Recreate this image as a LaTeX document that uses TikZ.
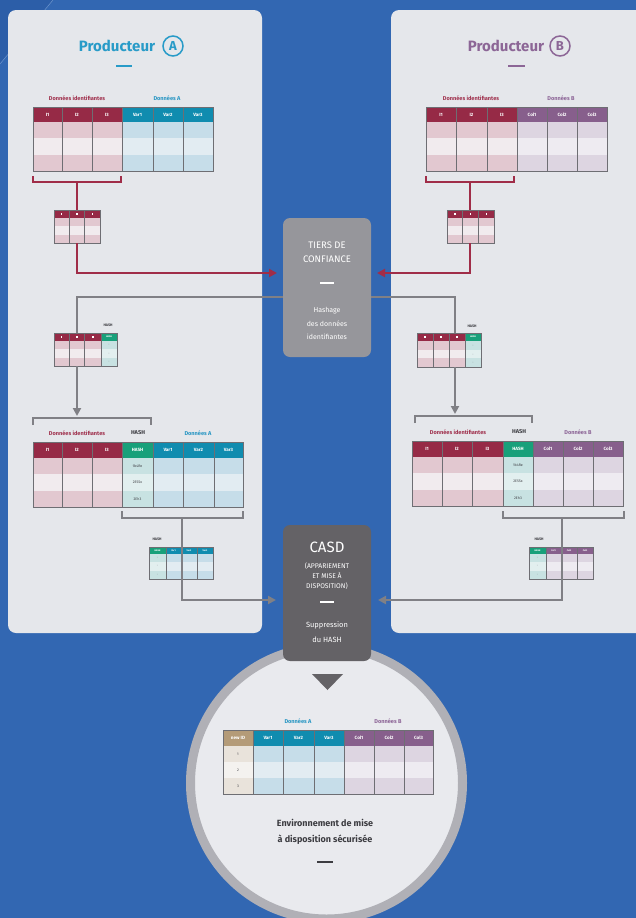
\documentclass[tikz,border=0pt]{standalone}
\usepackage{fontspec}
\setmainfont{Fira Sans}
\usetikzlibrary{arrows.meta}
\definecolor{bgblue}{RGB}{50,103,178}
\definecolor{bgdark}{RGB}{44,94,168}
\definecolor{diag}{RGB}{110,150,205}
\definecolor{panel}{RGB}{229,231,235}
\definecolor{redH}{RGB}{150,42,70}
\definecolor{redA}{RGB}{226,200,208}
\definecolor{redB}{RGB}{241,235,238}
\definecolor{blueH}{RGB}{16,140,175}
\definecolor{blueA}{RGB}{198,221,233}
\definecolor{blueB}{RGB}{226,236,242}
\definecolor{purH}{RGB}{135,95,140}
\definecolor{purA}{RGB}{221,213,225}
\definecolor{purB}{RGB}{238,235,241}
\definecolor{greenH}{RGB}{24,160,122}
\definecolor{greenA}{RGB}{200,226,226}
\definecolor{greenB}{RGB}{226,239,239}
\definecolor{tanH}{RGB}{180,155,120}
\definecolor{tanA}{RGB}{233,227,219}
\definecolor{tanB}{RGB}{244,242,239}
\definecolor{tborder}{RGB}{110,110,115}
\definecolor{lineG}{RGB}{128,128,133}
\definecolor{redC}{RGB}{160,45,72}
\definecolor{tiersG}{RGB}{150,150,155}
\definecolor{casdG}{RGB}{100,98,102}
\definecolor{ringG}{RGB}{176,176,182}
\definecolor{innerG}{RGB}{233,234,238}
\definecolor{titleA}{RGB}{40,155,200}
\definecolor{titleB}{RGB}{140,102,150}
\definecolor{lblRed}{RGB}{160,50,78}
\definecolor{lblBlue}{RGB}{40,150,195}
\definecolor{lblPur}{RGB}{140,100,150}
\definecolor{darktxt}{RGB}{60,60,65}
\newcounter{nc}
\newcommand{\tcol}[9]{%
 \fill[#6] (#1,#3) rectangle (#2,#4);
 \pgfmathsetmacro{\tcrh}{(#5-#4)/3}
 \fill[#7] (#1,#4) rectangle (#2,#4+\tcrh);
 \fill[#8] (#1,#4+\tcrh) rectangle (#2,#4+2*\tcrh);
 \fill[#7] (#1,#4+2*\tcrh) rectangle (#2,#5);
 \draw[tline] (#1,#3) rectangle (#2,#5);
 \stepcounter{nc}%
 \node[hd] (n\arabic{nc}) at ({(#1+#2)/2},{(#3+#4)/2}) {#9};
}
\newcommand{\tval}[4][val]{\stepcounter{nc}\node[#1] (n\arabic{nc}) at (#2,#3) {#4};}
\newcommand{\dotm}{\rule{1.3pt}{1.3pt}}
\newcommand{\tinyt}[1]{\fontsize{2.3}{2.5}\selectfont #1}
\begin{document}
\begin{tikzpicture}[x=1pt,y=-1pt,
  tline/.style={draw=tborder, line width=0.8pt},
  hd/.style={text=white, font=\fontsize{4.6}{5}\selectfont\bfseries, inner sep=0},
  val/.style={text=darktxt, font=\fontsize{3.6}{4}\selectfont, inner sep=0},
  sval/.style={text=tborder, font=\fontsize{3}{3}\selectfont, inner sep=0},
  lbl/.style={font=\fontsize{5.6}{6}\selectfont\bfseries, inner sep=0},
  slbl/.style={text=darktxt, font=\fontsize{3.6}{4}\selectfont\bfseries, inner sep=0},
  redline/.style={draw=redC, line width=2.2pt},
  grayline/.style={draw=lineG, line width=2pt},
  tip/.style={-{Triangle[length=8pt,width=8pt]}},
  title/.style={font=\fontsize{15}{17}\selectfont\bfseries, inner sep=0},
  circA/.style={circle, line width=1.5pt, minimum size=20pt, inner sep=0, font=\fontsize{13}{14}\selectfont\bfseries},
  boxtxt/.style={text=white, align=center, inner sep=0},
  panelbox/.style={fill=panel, rounded corners=8pt},
]
\useasboundingbox (0,0) rectangle (636,918);
\fill[bgblue] (0,0) rectangle (636,918);
\fill[bgdark] (0,0) -- (53,0) -- (0,64) -- cycle;
\draw[diag, line width=0.5pt] (0,64) -- (53,0);

% panels
\fill[panelbox] (8,10) rectangle (262,633);
\fill[panelbox] (391,10) rectangle (660,633);

% titles
\node[title, text=titleA] (tA) at (117,46) {Producteur};
\node[circA, draw=titleA, text=titleA] (cA) at (173,46) {A};
\draw[titleA, line width=1.5pt] (116,66) -- (132,66);
\node[title, text=titleB] (tB) at (506,46) {Producteur};
\node[circA, draw=titleB, text=titleB] (cB) at (560,46) {B};
\draw[titleB, line width=1.5pt] (508,66) -- (525,66);

% ---- top tables
\node[lbl, text=lblRed] (l1) at (77,98) {Données identifiantes};
\node[lbl, text=lblBlue] (l2) at (167,98) {Données A};
\tcol{33}{62}{107}{122}{171}{redH}{redA}{redB}{I1}
\tcol{62}{92}{107}{122}{171}{redH}{redA}{redB}{I2}
\tcol{92}{122}{107}{122}{171}{redH}{redA}{redB}{I3}
\tcol{122}{153}{107}{122}{171}{blueH}{blueA}{blueB}{Var1}
\tcol{153}{183}{107}{122}{171}{blueH}{blueA}{blueB}{Var2}
\tcol{183}{213}{107}{122}{171}{blueH}{blueA}{blueB}{Var3}

\node[lbl, text=lblRed] (l3) at (471,98) {Données identifiantes};
\node[lbl, text=lblPur] (l4) at (561,98) {Données B};
\tcol{426}{456}{107}{122}{171}{redH}{redA}{redB}{I1}
\tcol{456}{487}{107}{122}{171}{redH}{redA}{redB}{I2}
\tcol{487}{517}{107}{122}{171}{redH}{redA}{redB}{I3}
\tcol{517}{547}{107}{122}{171}{purH}{purA}{purB}{Col1}
\tcol{547}{577}{107}{122}{171}{purH}{purA}{purB}{Col2}
\tcol{577}{607}{107}{122}{171}{purH}{purA}{purB}{Col3}

% red brackets and connectors
\draw[redline] (33,176) -- (33,182) -- (121,182) -- (121,176);
\draw[redline] (426,176) -- (426,182) -- (514,182) -- (514,176);
\coordinate (rA) at (77,182);
\coordinate (rB) at (470,182);
\draw[redline] (rA) -- (77,210);
\draw[redline] (rB) -- (470,210);

% gray line behind tiers box
\coordinate (gA) at (77,297);
\coordinate (gB) at (455,297);
\draw[grayline] (327,297) -- (gA) -- (77,333);
\draw[grayline] (327,297) -- (gB) -- (455,333);

% small tables 1
\tcol{54}{69.3}{210}{218}{243}{redH}{redA}{redB}{\dotm}
\tcol{69.3}{84.7}{210}{218}{243}{redH}{redA}{redB}{\dotm}
\tcol{84.7}{100}{210}{218}{243}{redH}{redA}{redB}{\dotm}
\tcol{447}{462.7}{210}{218}{243}{redH}{redA}{redB}{\dotm}
\tcol{462.7}{478.3}{210}{218}{243}{redH}{redA}{redB}{\dotm}
\tcol{478.3}{494}{210}{218}{243}{redH}{redA}{redB}{\dotm}

% tiers de confiance
\node[fill=tiersG, rounded corners=7pt, minimum width=88pt, minimum height=139pt, inner sep=0] (tiers) at (327,287.5) {};
\coordinate (aL) at (277,273);
\coordinate (aR) at (377,273);
\draw[redline, tip] (77,243) -- (77,273) -- (aL);
\draw[redline, tip] (470,243) -- (470,273) -- (aR);
\node[boxtxt, font=\fontsize{9.5}{14}\selectfont] (t1) at (327,252) {TIERS DE\\CONFIANCE};
\draw[white, line width=1.5pt] (320,283) -- (334,283);
\node[boxtxt, font=\fontsize{7}{13.5}\selectfont] (t2) at (327,323.5) {Hashage\\des données\\identifiantes};

% small HASH tables
\node[slbl] (h1) at (108,325) {HASH};
\tcol{54}{69.3}{333}{341}{366}{redH}{redA}{redB}{\dotm}
\tcol{69.3}{84.7}{333}{341}{366}{redH}{redA}{redB}{\dotm}
\tcol{84.7}{101}{333}{341}{366}{redH}{redA}{redB}{\dotm}
\tcol{101}{117}{333}{341}{366}{greenH}{greenA}{greenB}{\tinyt{HASH}}
\tval[sval]{109}{345}{-}\tval[sval]{109}{354}{-}\tval[sval]{109}{362}{-}
\node[slbl] (h2) at (472,326) {HASH};
\tcol{417}{433}{333}{341}{367}{redH}{redA}{redB}{\dotm}
\tcol{433}{449}{333}{341}{367}{redH}{redA}{redB}{\dotm}
\tcol{449}{465}{333}{341}{367}{redH}{redA}{redB}{\dotm}
\tcol{465}{481}{333}{341}{367}{greenH}{greenA}{greenB}{\tinyt{HASH}}
\tval[sval]{473}{346}{-}\tval[sval]{473}{355}{-}\tval[sval]{473}{363}{-}

\draw[grayline, tip] (77,366) -- (77,416);
\draw[grayline, tip] (455,367) -- (455,414);

% gray brackets
\draw[grayline] (33,425) -- (33,418) -- (151,418) -- (151,425);
\draw[grayline] (122,511) -- (122,518) -- (243,518) -- (243,511);
\draw[grayline] (415,423) -- (415,416) -- (532,416) -- (532,423);
\draw[grayline] (503,511) -- (503,518) -- (624,518) -- (624,511);

% big tables
\node[lbl, text=lblRed] (l5) at (77,433) {Données identifiantes};
\node[lbl, text=darktxt] (l6) at (138,433) {HASH};
\node[lbl, text=lblBlue] (l7) at (198,433) {Données A};
\tcol{33}{62}{442}{458}{507}{redH}{redA}{redB}{I1}
\tcol{62}{92}{442}{458}{507}{redH}{redA}{redB}{I2}
\tcol{92}{122}{442}{458}{507}{redH}{redA}{redB}{I3}
\tcol{122}{153}{442}{458}{507}{greenH}{greenA}{greenB}{HASH}
\tcol{153}{183}{442}{458}{507}{blueH}{blueA}{blueB}{Var1}
\tcol{183}{214}{442}{458}{507}{blueH}{blueA}{blueB}{Var2}
\tcol{214}{243}{442}{458}{507}{blueH}{blueA}{blueB}{Var3}
\tval{137.5}{466}{1b4Re}\tval{137.5}{482.5}{2E5Sx}\tval{137.5}{499}{2Eh3}

\node[lbl, text=lblRed] (l8) at (458,432) {Données identifiantes};
\node[lbl, text=darktxt] (l9) at (519,432) {HASH};
\node[lbl, text=lblPur] (l10) at (578,432) {Données B};
\tcol{412}{442}{441}{457}{506}{redH}{redA}{redB}{I1}
\tcol{442}{472}{441}{457}{506}{redH}{redA}{redB}{I2}
\tcol{472}{503}{441}{457}{506}{redH}{redA}{redB}{I3}
\tcol{503}{533}{441}{457}{506}{greenH}{greenA}{greenB}{HASH}
\tcol{533}{563}{441}{457}{506}{purH}{purA}{purB}{Col1}
\tcol{563}{593}{441}{457}{506}{purH}{purA}{purB}{Col2}
\tcol{593}{623}{441}{457}{506}{purH}{purA}{purB}{Col3}
\tval{518}{465}{1b4Re}\tval{518}{481.5}{2E5Sx}\tval{518}{498}{2Eh3}

% bottom small tables
\node[slbl] (h3) at (157,539) {HASH};
\tcol{149}{166}{547}{554}{579}{greenH}{greenA}{greenB}{\tinyt{HASH}}
\tcol{166}{181}{547}{554}{579}{blueH}{blueA}{blueB}{\tinyt{Var1}}
\tcol{181}{197}{547}{554}{579}{blueH}{blueA}{blueB}{\tinyt{Var2}}
\tcol{197}{213}{547}{554}{579}{blueH}{blueA}{blueB}{\tinyt{Var3}}
\tval[sval]{157.5}{558}{-}\tval[sval]{157.5}{566}{-}\tval[sval]{157.5}{575}{-}
\node[slbl] (h4) at (539,539) {HASH};
\tcol{529}{546}{547}{554}{579}{greenH}{greenA}{greenB}{\tinyt{HASH}}
\tcol{546}{561}{547}{554}{579}{purH}{purA}{purB}{\tinyt{Col1}}
\tcol{561}{577}{547}{554}{579}{purH}{purA}{purB}{\tinyt{Col2}}
\tcol{577}{593}{547}{554}{579}{purH}{purA}{purB}{\tinyt{Col3}}
\tval[sval]{537.5}{558}{-}\tval[sval]{537.5}{566}{-}\tval[sval]{537.5}{575}{-}

% circle
\draw[ringG, line width=9pt, fill=innerG] (326.5,783) circle[radius=136pt];

% CASD box
\node[fill=casdG, rounded corners=7pt, minimum width=88pt, minimum height=136pt, inner sep=0] (casd) at (327,593) {};
\coordinate (bL) at (276,600);
\coordinate (bR) at (378,600);
\draw[grayline, tip] (182,518) -- (182,600) -- (bL);
\draw[grayline, tip] (562,518) -- (562,600) -- (bR);
\node[boxtxt, font=\fontsize{15}{15}\selectfont] (c1) at (327,547) {CASD};
\node[boxtxt, font=\fontsize{6.8}{10}\selectfont] (c2) at (327,576) {(APPARIEMENT\\ET MISE À\\DISPOSITION)};
\draw[white, line width=1.5pt] (320,602) -- (334,602);
\node[boxtxt, font=\fontsize{7.5}{15}\selectfont] (c3) at (327,632) {Suppression\\du HASH};

% triangle
\fill[casdG] (312,674) -- (343,674) -- (327.5,690) -- cycle;

% bottom table
\node[lbl, text=lblBlue] (l11) at (298,721) {Données A};
\node[lbl, text=lblPur] (l12) at (388,721) {Données B};
\tcol{223}{253}{730}{746}{794}{tanH}{tanA}{tanB}{new ID}
\tcol{253}{283}{730}{746}{794}{blueH}{blueA}{blueB}{Var1}
\tcol{283}{314}{730}{746}{794}{blueH}{blueA}{blueB}{Var2}
\tcol{314}{344}{730}{746}{794}{blueH}{blueA}{blueB}{Var3}
\tcol{344}{374}{730}{746}{794}{purH}{purA}{purB}{Col1}
\tcol{374}{404}{730}{746}{794}{purH}{purA}{purB}{Col2}
\tcol{404}{433}{730}{746}{794}{purH}{purA}{purB}{Col3}
\tval{238}{754}{1}\tval{238}{770}{2}\tval{238}{786}{3}

\node[text=darktxt, align=center, font=\fontsize{9}{16}\selectfont\bfseries, inner sep=0] (env) at (325,832) {Environnement de mise\\à disposition sécurisée};
\draw[darktxt, line width=1.5pt] (317,862) -- (333,862);
\end{tikzpicture}
\end{document}
